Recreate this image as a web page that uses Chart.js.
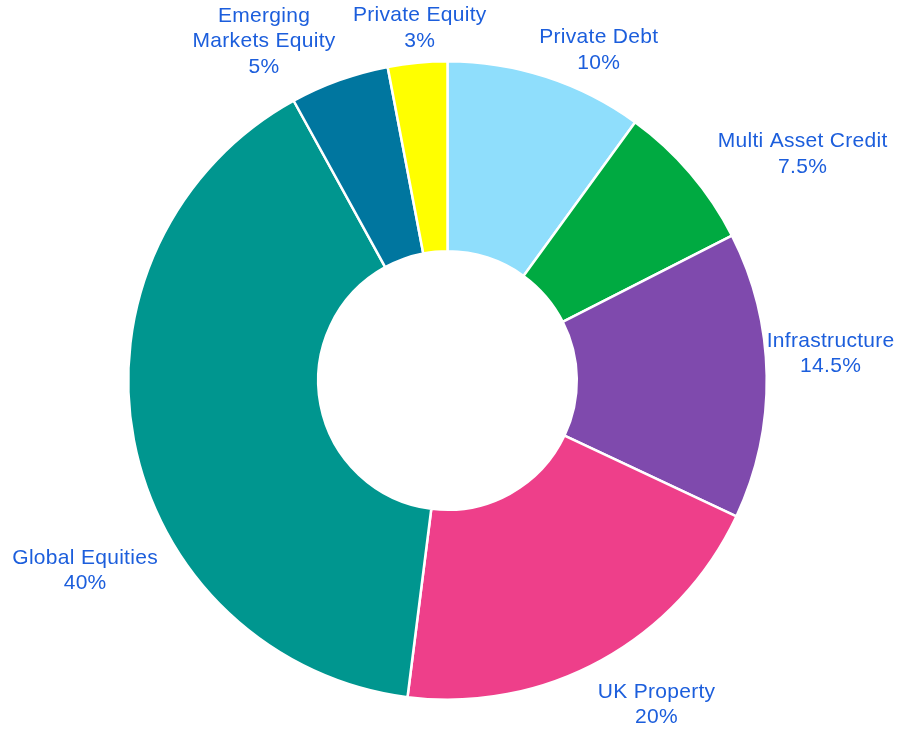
<!DOCTYPE html>
<html>
<head>
<meta charset="utf-8">
<script src="https://cdn.jsdelivr.net/npm/chart.js@4"></script>
<style>
  html, body { margin: 0; padding: 0; background: #ffffff; }
  #wrap { width: 903px; height: 731px; position: relative; }
</style>
</head>
<body>
<div id="wrap"><canvas id="c" width="903" height="731"></canvas></div>
<script>
// ---- data ----
const categories = ['Private Debt', 'Multi Asset Credit', 'Infrastructure', 'UK Property', 'Global Equities', 'Emerging Markets Equity', 'Private Equity'];
const allocations = [10, 7.5, 14.5, 20, 40, 5, 3];
const labelNameLines = [['Private Debt'], ['Multi Asset Credit'], ['Infrastructure'], ['UK Property'], ['Global Equities'], ['Emerging', 'Markets Equity'], ['Private Equity']];

// ---- styling / label placement (angle clockwise from top in degrees, distance as multiple of outer radius) ----
const sliceColors = ['#8FDEFC', '#00AA41', '#7F4AAD', '#EE3F8A', '#00968F', '#00769F', '#FFFF00'];
const labelAngles = [24.6, 57.5, 86.0, 147.2, 242.3, 331.6, 355.5];
const labelDistances = [1.138, 1.319, 1.203, 1.209, 1.282, 1.208, 1.107];

const outsideLabels = {
  id: 'outsideLabels',
  afterDatasetsDraw(chart) {
    const ctx = chart.ctx;
    const arc = chart.getDatasetMeta(0).data[0];
    const cx = arc.x, cy = arc.y, R = arc.outerRadius;
    ctx.save();
    ctx.font = '21px "Liberation Sans", Arial, sans-serif';
    try { ctx.letterSpacing = '0.3px'; } catch (e) {}
    ctx.fillStyle = '#1C5EDC';
    ctx.textAlign = 'center';
    ctx.textBaseline = 'middle';
    const lh = 25.5;
    allocations.forEach((v, i) => {
      const lines = labelNameLines[i].concat([v + '%']);
      const a = labelAngles[i] * Math.PI / 180;
      const x = cx + labelDistances[i] * R * Math.sin(a);
      const y = cy - labelDistances[i] * R * Math.cos(a);
      const top = y - (lines.length - 1) * lh / 2;
      lines.forEach((t, k) => ctx.fillText(t, x, top + k * lh));
    });
    ctx.restore();
  }
};

new Chart(document.getElementById('c'), {
  type: 'doughnut',
  data: {
    labels: categories,
    datasets: [{
      data: allocations,
      backgroundColor: sliceColors,
      borderColor: '#ffffff',
      borderWidth: 2.5,
      hoverOffset: 0
    }]
  },
  options: {
    responsive: false,
    animation: false,
    cutout: '40.5%',
    rotation: 0,
    layout: { padding: { top: 60, bottom: 30, left: 127, right: 135 } },
    plugins: {
      legend: { display: false },
      tooltip: { enabled: false }
    }
  },
  plugins: [outsideLabels]
});
</script>
</body>
</html>
